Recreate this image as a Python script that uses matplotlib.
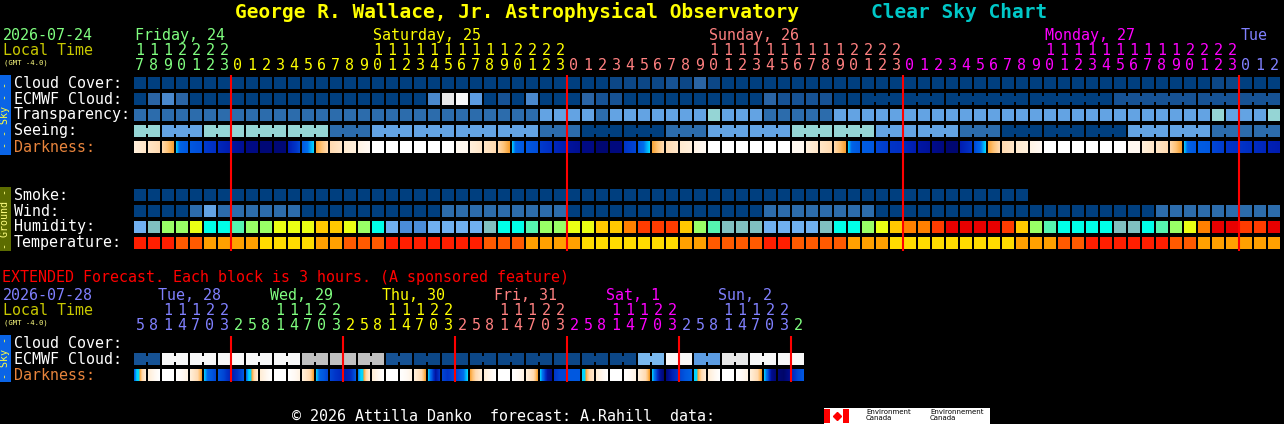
import numpy as np
import matplotlib
matplotlib.use('Agg')
import matplotlib.pyplot as plt
from matplotlib.patches import Rectangle
from matplotlib.colors import to_rgb

plt.rcParams['font.family'] = ['DejaVu Sans Mono']

# grid geometry in pixels
X0 = 134
STEP = 14
CELL = 12

# ---------------- main chart data (one column = one hour) ----------------
start_hour = 17
day_names = ['Friday, 24', 'Saturday, 25', 'Sunday, 26', 'Monday, 27', 'Tue']
day_colors = ['#80ff80', '#ffff00', '#ff8080', '#ff00ff', '#8080ff']
day_label_cols = [0, 17, 41, 65, 79]

# cloud levels 0 (clear) .. 10 (overcast)
cloud = [0, 0, 0, 0, 0, 0, 0,
         0, 0, 0, 0, 0, 0, 0, 0, 0, 0, 0, 0, 0, 0, 0, 0, 0, 0, 0, 0, 0, 0, 0, 0,
         0, 0, 0, 1, 1, 1, 1, 2, 1, 3, 1, 0, 0, 0, 0, 0, 0, 0, 0, 0, 0, 0, 0, 0,
         0, 0, 0, 0, 0, 0, 0, 0, 0, 0, 0, 0, 0, 0, 0, 0, 0, 0, 0, 0, 0, 0, 1, 1,
         0, 0, 0]
ecmwf = [0, 3, 4, 3, 0, 0, 0,
         0, 0, 0, 0, 0, 0, 0, 0, 0, 0, 0, 0, 0, 0, 4, 9, 10, 5, 0, 2, 0, 4, 0, 0,
         0, 3, 2, 2, 0, 0, 0, 0, 0, 0, 0, 0, 0, 0, 3, 2, 2, 2, 2, 0, 0,
         0, 0, 0, 2, 2]
ecmwf_spans = [1] * 52 + [6] * 5
# 0 transparent .. 5 too cloudy
transparency = [1, 1, 1, 1, 1, 1, 1,
                1, 1, 1, 1, 1, 1, 1, 1, 1, 1, 1, 1, 1, 1, 1, 1, 1, 1, 1, 1, 1, 1, 2, 2,
                2, 2, 1, 2, 2, 2, 2, 2, 2, 2, 3, 2, 2, 2, 1, 1, 1, 1, 1, 2, 2, 2, 2, 2,
                2, 2, 2, 2, 2, 2, 2, 2, 2, 2, 2, 2, 2, 2, 2, 2, 2, 2, 2, 2, 2, 2, 3, 2,
                2, 2, 3]
# seeing in 3 hour blocks: 0 excellent .. 4 bad
seeing = [3, 2, 3, 3, 3, 1, 2, 2, 2, 2, 1, 0, 0, 1, 2, 2, 3, 3, 2, 2, 1, 0, 0, 0, 2, 2, 1, 1]
seeing_spans = [2] + [3] * 26 + [2]
# darkness: 0 daylight .. 10 darkest, several samples across a cell for twilight
darkness = [[1, 1.5], [1.5, 2], [2, 2.5, 3], [3.1, 5.5, 5.8, 6], [6, 6.3], [6.8, 7.2], [7.5, 8],
            [8.5, 8.8], 9.2, 9.5, 9.5, [8, 6.5], [6, 5, 3.1], [3, 2.5, 2], [2, 1.5], [1.3, 1], [0.8, 0.4],
            0, 0, 0, 0, 0, 0, 0.5, [1, 1.5], [1.5, 2], [2, 2.5, 3], [3.1, 5.5, 5.8, 6], [6, 6.3],
            [6.8, 7.2], [7.5, 8],
            [8.5, 8.8], 9.2, 9.6, 9.3, [7, 6.5], [6, 5, 3.1], [3, 2.5, 2], [2, 1.5], [1.3, 1], [0.8, 0.4],
            0, 0, 0, 0, 0, 0, 0.5, [1, 1.5], [1.5, 2], [2, 2.5, 3], [3.1, 5.5, 5.8, 6], [5.8, 6],
            [6.5, 6.8], [7, 7.2],
            [7.5, 8], [8.3, 8.6], [9, 9.3], 9.6, [8, 7], [6.5, 5.5, 3.1], [3, 2.5, 2], [2, 1.5], [1.3, 1],
            [0.8, 0.4], 0, 0, 0, 0, 0, 0, 0.5, [1, 1.5], [1.5, 2], [2, 2.5, 3], [3.1, 5.5, 5.8, 6],
            [5.8, 6], [6.5, 6.8], [7, 7.2],
            [7, 7.3], [7.3, 7.6], [7.8, 8]]
smoke = [0] * 64
wind = [0, 0, 0, 0, 1, 2, 1,
        1, 1, 1, 1, 1, 0, 0, 0, 0, 0, 0, 0, 0, 0, 0, 1, 1, 1, 1, 1, 1, 1, 1, 1,
        0, 0, 0, 0, 0, 0, 0, 0, 0, 0, 0, 0, 0, 0, 1, 1, 1, 1, 1, 1, 1, 1, 0, 0,
        0, 0, 0, 0, 0, 0, 0, 0, 0, 0, 0, 0, 0, 0, 0, 0, 0, 0, 1, 1, 1, 1, 1, 1,
        1, 1, 1]
humidity = [1, 2, 5, 5, 6, 3, 3,
            4, 5, 5, 6, 6, 6, 7, 7, 6, 5, 3, 1, 0, 0, 1, 1, 1, 1, 2, 3, 3, 4, 5, 5,
            6, 6, 7, 7, 8, 9, 9, 9, 7, 5, 4, 2, 2, 2, 1, 1, 1, 1, 2, 3, 3, 5, 6, 7,
            8, 8, 9, 10, 10, 10, 10, 9, 7, 5, 4, 3, 3, 3, 3, 2, 2, 3, 4, 5, 6, 8, 10, 10,
            9, 9, 10]
temperature = [0, 0, 0, 1, 1, 2, 2,
               2, 2, 3, 3, 3, 3, 2, 2, 1, 1, 1, 0, 0, 0, 0, 0, 0, 0, 1, 1, 1, 2, 2, 2,
               2, 3, 3, 3, 3, 3, 3, 3, 2, 2, 1, 1, 1, 1, 0, 0, 1, 1, 1, 1, 2, 2, 2, 3,
               3, 3, 3, 3, 3, 3, 3, 3, 2, 2, 2, 1, 1, 0, 0, 0, 0, 0, 0, 1, 1, 2, 2, 2,
               2, 2, 2]

# ---------------- extended forecast (one column = 3 hours) ----------------
ext_start_hour = 5
ext_day_names = ['Tue, 28', 'Wed, 29', 'Thu, 30', 'Fri, 31', 'Sat, 1', 'Sun, 2']
ext_day_colors = ['#8080ff', '#80ff80', '#ffff00', '#ff8080', '#ff00ff', '#8080ff', '#80ff80']
ext_ecmwf = [2, 10, 10, 10, 10, 10, 8, 8, 8, 2, 1, 1, 1, 1, 1, 1, 1, 1, 6, 10, 5, 9, 10, 10]
ext_ecmwf_spans = [2] * 24
ext_darkness = [[6, 3.1, 3, 2, 1.2], [1.2, 0.6, 0], 0, [0, 0.3, 0.8],
                [1, 1.5, 2, 3], [3.1, 5.5, 6, 6.5], [6, 6.5, 7.5], [8, 7, 6],
                [5.5, 3.1, 3, 2, 1.2], [1.2, 0.6, 0], 0, [0, 0.3, 0.8],
                [1, 1.5, 2, 3], [3.1, 5.5, 6, 6.5], [6.5, 7, 7.5], [8, 7.5, 6],
                [5, 3.1, 3, 2, 1.2], [1.2, 0.6, 0], 0, [0, 0.3, 0.8],
                [1, 1.5, 2, 3], [3.1, 6, 8.5, 7], [6.5, 7, 6.5], [6.5, 6, 5, 3.1],
                [3, 2, 1.2], [1.2, 0.6, 0], 0, [0, 0.3, 0.8],
                [1, 1.5, 2, 3], [3.1, 6, 8.5, 9], [7, 6.5, 6.5], [6, 6],
                [3.1, 3, 2, 1.5], [1.2, 0.6, 0], 0, [0, 0.3, 0.8],
                [1, 1.5, 2, 3], [3.1, 6, 8.5, 9.5], [9.5, 8, 7], [6.5, 6, 5.5],
                [3.1, 3, 2, 1.2], [1.2, 0.6, 0], 0, [0, 0.3, 0.8],
                [1, 1.5, 2, 3], [3.1, 6, 9, 9.5], [9.5, 9.8, 9], [7.5, 6.5, 6]]

# ---------------- colour scales ----------------
cloud_pal = ['#003f7f', '#0c4787', '#165294', '#2a64a4', '#4a88cc', '#5c9ce2',
             '#7ab8ee', '#a0a0a0', '#c0c0c0', '#e8e8e8', '#f8f8f8']
sky_pal = ['#003f7f', '#2c6cac', '#63a3e3', '#95d5d5', '#c7ebeb', '#f9f9f9']
hum_pal = ['#4a8cd8', '#70b0f0', '#80c0c0', '#00ffe8', '#55f5b0', '#99ff66',
           '#eaff14', '#ffc800', '#ff8000', '#ff3c00', '#e80000']
temp_pal = ['#ff1e00', '#ff5a00', '#ffa000', '#ffdc00']
dark_stops = [0, 0.5, 1, 1.5, 2, 2.5, 3, 3.02, 4, 5, 6, 7, 8, 9, 10]
dark_cols = ['#ffffff', '#fff8f0', '#fff0dc', '#ffe6c8', '#ffdab0', '#ffc478', '#f8a030',
             '#00d8ff', '#00a8f8', '#0070ec', '#0058e0', '#0034c8', '#001cb0', '#000c8c', '#000460']
dark_rgb = np.array([to_rgb(c) for c in dark_cols])


def dark_color(v):
    return np.stack([np.interp(v, dark_stops, dark_rgb[:, k]) for k in range(3)], axis=-1)


def draw_row(ax, values, palette, y, spans=None, step=STEP):
    if spans is None:
        spans = [1] * len(values)
    col = 0
    for v, n in zip(values, spans):
        c = palette[v]
        for k in range(n):
            ax.add_patch(Rectangle((X0 + step * (col + k), y), CELL, CELL, color=c, lw=0))
        for k in range(n - 1):
            ax.add_patch(Rectangle((X0 + step * (col + k) + CELL, y + 3), step - CELL, CELL - 6,
                                   color=c, lw=0))
        col += n


def draw_dark(ax, cells, y, step=STEP):
    t = np.linspace(0, 1, 24)
    for i, s in enumerate(cells):
        s = np.atleast_1d(np.array(s, dtype=float))
        if len(s) > 1:
            v = np.interp(t, np.linspace(0, 1, len(s)), s)
        else:
            v = np.full_like(t, s[0])
        x = X0 + step * i
        ax.imshow(dark_color(v)[None], extent=(x, x + CELL, y + CELL, y),
                  interpolation='nearest', aspect='auto')


fig = plt.figure(figsize=(12.84, 4.24), dpi=100, facecolor='black')
ax = fig.add_axes([0, 0, 1, 1])
ax.set_facecolor('black')

FS = 10.8

# title
ax.text(235, 17.5, 'George R. Wallace, Jr. Astrophysical Observatory', color='#ffff00',
        fontsize=14, fontweight='bold', va='baseline')
ax.text(871, 17.5, 'Clear Sky Chart', color='#00c8c8', fontsize=14, fontweight='bold', va='baseline')

# header of main chart
ax.text(3, 40, '2026-07-24', color='#80ff80', fontsize=FS, va='baseline')
ax.text(3, 55, 'Local Time', color='#c8c800', fontsize=FS, va='baseline')
ax.text(4, 64.5, '(GMT -4.0)', color='#ffff80', fontsize=5.2, va='baseline')

ncol = len(cloud)
day_idx = []
d = 0
for i in range(ncol):
    h = (start_hour + i) % 24
    if i > 0 and h == 0:
        d += 1
    day_idx.append(d)
    xc = X0 + STEP * i + 6
    if h >= 10:
        ax.text(xc, 55, str(h // 10), color=day_colors[d], fontsize=FS, ha='center', va='baseline')
    ax.text(xc, 70, str(h % 10), color=day_colors[d], fontsize=FS, ha='center', va='baseline')
for name, c, col in zip(day_names, day_colors, day_label_cols):
    ax.text(X0 + STEP * col + 1, 40, name, color=c, fontsize=FS, va='baseline')

# row labels
sky_rows = ['Cloud Cover:', 'ECMWF Cloud:', 'Transparency:', 'Seeing:', 'Darkness:']
for k, lab in enumerate(sky_rows):
    ax.text(14, 77 + 16 * k + 10.5, lab, color='#e8843c' if lab == 'Darkness:' else 'white',
            fontsize=FS, va='baseline')
ground_rows = ['Smoke:', 'Wind:', 'Humidity:', 'Temperature:']
for k, lab in enumerate(ground_rows):
    ax.text(14, 189 + 16 * k + 10.5, lab, color='white', fontsize=FS, va='baseline')

# side bars
ax.add_patch(Rectangle((0, 75), 11, 80, color='#0a64e6', lw=0))
ax.text(5.5, 115, '- - Sky - -', color='#ffff40', fontsize=7.2, rotation=90, ha='center', va='center')
ax.add_patch(Rectangle((0, 187), 11, 64, color='#5c6c00', lw=0))
ax.text(5.5, 219, '- Ground -', color='#ffff80', fontsize=7.2, rotation=90, ha='center', va='center')

# blocks
draw_row(ax, cloud, cloud_pal, 77)
draw_row(ax, ecmwf, cloud_pal, 93, ecmwf_spans)
draw_row(ax, transparency, sky_pal, 109)
draw_row(ax, seeing, sky_pal, 125, seeing_spans)
draw_dark(ax, darkness, 141)
draw_row(ax, smoke, cloud_pal, 189)
draw_row(ax, wind, sky_pal, 205)
draw_row(ax, humidity, hum_pal, 221)
draw_row(ax, temperature, temp_pal, 237)

# midnight lines
mid = [i for i in range(1, ncol) if (start_hour + i) % 24 == 0]
ax.vlines([X0 + STEP * i - 1 for i in mid], 75, 251, color='#ff0000', lw=1.5)

# ---------------- extended section ----------------
ax.text(2, 282, 'EXTENDED Forecast. Each block is 3 hours. (A sponsored feature)',
        color='#ff0000', fontsize=FS, va='baseline')
ax.text(3, 300, '2026-07-28', color='#8080ff', fontsize=FS, va='baseline')
ax.text(3, 315, 'Local Time', color='#c8c800', fontsize=FS, va='baseline')
ax.text(4, 325, '(GMT -4.0)', color='#ffff80', fontsize=5.2, va='baseline')

n_ext = len(ext_darkness)
d = 0
ext_mid = []
first_tens = {}
for i in range(n_ext):
    h = (ext_start_hour + 3 * i) % 24
    if i > 0 and h < 3:
        d += 1
        ext_mid.append(i)
    xc = X0 + STEP * i + 6
    if h >= 10:
        ax.text(xc, 315, str(h // 10), color=ext_day_colors[d], fontsize=FS, ha='center', va='baseline')
        first_tens.setdefault(d, i)
    ax.text(xc, 330, str(h % 10), color=ext_day_colors[d], fontsize=FS, ha='center', va='baseline')
for k, name in enumerate(ext_day_names):
    ax.text(X0 + STEP * first_tens[k] - 4, 300, name, color=ext_day_colors[k], fontsize=FS, va='baseline')

ext_rows = ['Cloud Cover:', 'ECMWF Cloud:', 'Darkness:']
for k, lab in enumerate(ext_rows):
    ax.text(14, 337 + 16 * k + 10.5, lab, color='#e8843c' if lab == 'Darkness:' else 'white',
            fontsize=FS, va='baseline')
ax.add_patch(Rectangle((0, 335), 11, 47, color='#0a64e6', lw=0))
ax.text(5.5, 358, '- Sky -', color='#ffff40', fontsize=7.2, rotation=90, ha='center', va='center')

draw_row(ax, ext_ecmwf, cloud_pal, 353, ext_ecmwf_spans)
draw_dark(ax, ext_darkness, 369)
ax.vlines([X0 + STEP * i - 1 for i in ext_mid], 336, 382, color='#ff0000', lw=1.5)

# footer
ax.text(292, 421, '\u00a9 2026 Attilla Danko  forecast: A.Rahill  data:', color='white',
        fontsize=FS, va='baseline')
ax.add_patch(Rectangle((824, 408), 166, 16, color='white', lw=0))
ax.add_patch(Rectangle((824, 409), 6, 14, color='#ff0000', lw=0))
ax.add_patch(Rectangle((843, 409), 6, 14, color='#ff0000', lw=0))
ax.plot([836.5], [416], marker='D', ms=4, color='#ff0000')
ax.text(866, 415, 'Environment\nCanada', color='black', fontsize=5, va='center', linespacing=0.9,
        family='DejaVu Sans')
ax.text(930, 415, 'Environnement\nCanada', color='black', fontsize=5, va='center', linespacing=0.9,
        family='DejaVu Sans')

ax.set_xlim(0, 1284)
ax.set_ylim(424, 0)
ax.axis('off')
fig.savefig('out.png', dpi=100, facecolor='black')
